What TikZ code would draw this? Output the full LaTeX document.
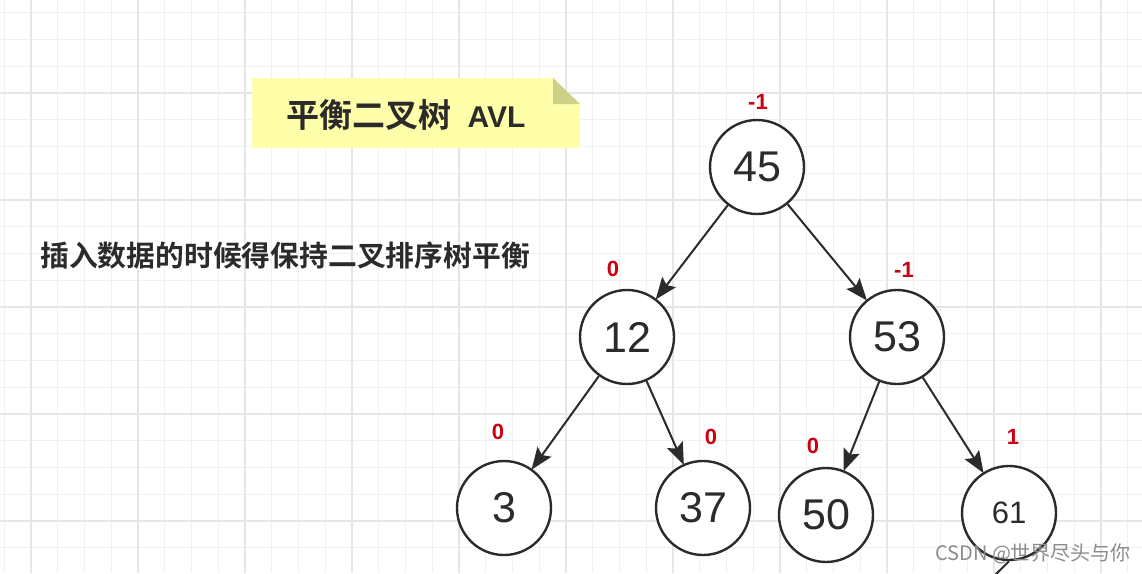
\documentclass[tikz,border=0pt]{standalone}
\usepackage{fontspec}
\setmainfont{Liberation Sans}
\newfontfamily\cjk{Noto Sans CJK SC}
\newfontfamily\cjkb{Noto Sans CJK SC Bold}
\usetikzlibrary{arrows.meta}
\definecolor{minorgrid}{HTML}{F0F0F0}
\definecolor{majorgrid}{HTML}{E6E6E6}
\definecolor{notefill}{HTML}{FFFFAA}
\definecolor{foldfill}{HTML}{CDD188}
\definecolor{ink}{HTML}{2B2B2B}
\definecolor{bfred}{HTML}{CC0011}
\tikzset{
  minorline/.style={draw=minorgrid, line width=1pt},
  majorline/.style={draw=majorgrid, line width=1.5pt},
  treenode/.style={circle, draw=ink, line width=2.4pt, fill=white, minimum size=94pt, inner sep=0pt, text=ink, font=\fontsize{43}{43}\selectfont},
  bal/.style={text=bfred, font=\bfseries\fontsize{22}{22}\selectfont, inner sep=0pt},
  edge/.style={draw=ink, line width=2pt, -{Stealth[length=22pt,width=17pt,inset=4pt]}, shorten >=-1pt},
}
\begin{document}
\begin{tikzpicture}[x=1pt,y=-1pt]
\useasboundingbox (0,0) rectangle (1142,573);
\clip (0,0) rectangle (1142,573);
\fill[white] (0,0) rectangle (1142,573);
% grid
\foreach \k [evaluate=\k as \xx using 31+26.75*\k] in {-1,...,42} {\draw[minorline] (\xx,0) -- (\xx,573);}
\foreach \k [evaluate=\k as \yy using 414+26.75*\k] in {-16,...,6} {\draw[minorline] (0,\yy) -- (1142,\yy);}
\foreach \k [evaluate=\k as \xx using 31+107*\k] in {0,...,10} {\draw[majorline] (\xx,0) -- (\xx,573);}
\foreach \k [evaluate=\k as \yy using 414+107*\k] in {-4,...,1} {\draw[majorline] (0,\yy) -- (1142,\yy);}
% note
\fill[notefill] (252,78) -- (553,78) -- (580,104) -- (580,148) -- (252,148) -- cycle;
\fill[foldfill] (553,78) -- (580,104) -- (553,104) -- cycle;
\node[text=ink, inner sep=0pt, anchor=base west] (title) at (286,127) {\cjkb\fontsize{33}{33}\selectfont 平衡二叉树\hspace{0.5em}{\fontspec{Liberation Sans}\bfseries\fontsize{30}{30}\selectfont AVL}};
\node[text=ink, inner sep=0pt, anchor=base west] (desc) at (40,266) {\cjkb\fontsize{28.8}{29}\selectfont 插入数据的时候得保持二叉排序树平衡};
% tree
\node[treenode] (n45) at (757,167) {45};
\node[treenode] (n12) at (627,337) {12};
\node[treenode] (n53) at (897,337) {53};
\node[treenode] (n3) at (504,508) {3};
\node[treenode] (n37) at (703,508) {37};
\node[treenode] (n50) at (826,515) {50};
\node[treenode, font=\fontsize{31}{31}\selectfont] (n61) at (1009,513) {61};
\coordinate (c61) at (980,590);
\draw[edge] (n45) -- (n12);
\draw[edge] (n45) -- (n53);
\draw[edge] (n12) -- (n3);
\draw[edge] (n12) -- (n37);
\draw[edge] (n53) -- (n50);
\draw[edge] (n53) -- (n61);
\draw[draw=ink, line width=2pt] (n61.south) -- (c61);
% balance factors
\node[bal] (b45) at (758,102) {-1};
\node[bal] (b12) at (613,269) {0};
\node[bal] (b53) at (904,270) {-1};
\node[bal] (b3) at (498,432) {0};
\node[bal] (b37) at (711,437) {0};
\node[bal] (b50) at (813,446) {0};
\node[bal] (b61) at (1013,437) {1};
% watermark
\node[text=black!45, inner sep=0pt, anchor=base west] (wm) at (935,560) {\cjk\fontsize{20}{20}\selectfont CSDN @世界尽头与你};
\end{tikzpicture}
\end{document}
